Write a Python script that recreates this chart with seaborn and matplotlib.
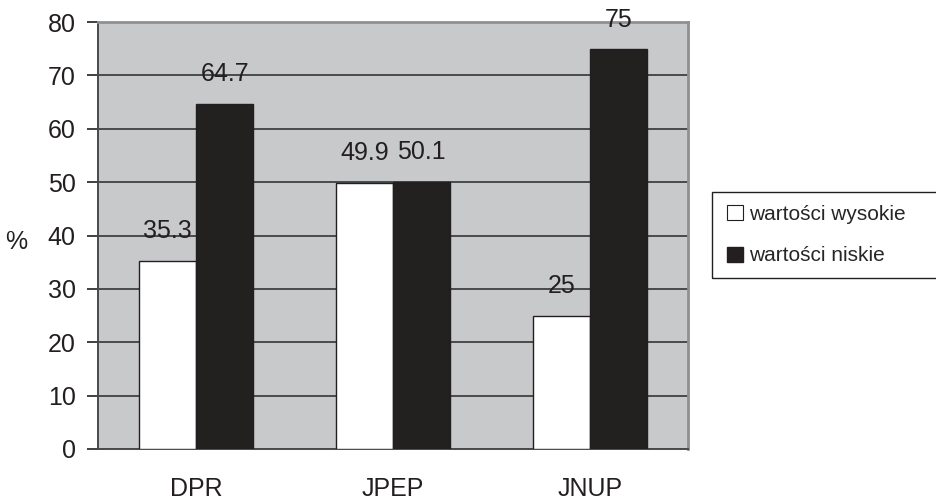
import matplotlib
matplotlib.use("Agg")
import matplotlib.pyplot as plt
import seaborn as sns
import pandas as pd
from matplotlib.patches import Patch, Rectangle

categories = ["DPR", "JPEP", "JNUP"]
series_names = ["wartości wysokie", "wartości niskie"]
high_values = [35.3, 49.9, 25]
low_values = [64.7, 50.1, 75]
label_high = ["35.3", "49.9", "25"]
label_low = ["64.7", "50.1", "75"]
y_ticks = [0, 10, 20, 30, 40, 50, 60, 70, 80]

df = pd.DataFrame({
    "cat": categories * 2,
    "series": [series_names[0]] * 3 + [series_names[1]] * 3,
    "value": high_values + low_values,
})

sns.set_theme(style="white")
plt.rcParams['font.family'] = ['Liberation Sans', 'DejaVu Sans']

fig = plt.figure(figsize=(9.37, 5.0), dpi=100)
ax = fig.add_axes([0.1046, 0.102, 0.6297, 0.854])

palette = {series_names[0]: "#ffffff", series_names[1]: "#231f20"}
sns.barplot(data=df, x="cat", y="value", hue="series", palette=palette,
            order=categories, hue_order=series_names, width=0.58,
            edgecolor="#231f20", linewidth=1.0, legend=False, ax=ax, zorder=3)

ax.set_facecolor("#c8c9cb")
ax.set_ylim(0, 80)
ax.set_xlim(-0.5, 2.5)
ax.set_yticks(y_ticks)
ax.set_yticklabels([str(v) for v in y_ticks], fontsize=18, color="#231f20")
ax.yaxis.grid(True, color="#4a4a4a", linewidth=1.4, zorder=1)
ax.set_axisbelow(True)

ax.set_xticks([0, 1, 2])
ax.set_xticklabels(categories, fontsize=18, color="#231f20")
ax.set_xticks([-0.5, 0.5, 1.5, 2.5], minor=True)
ax.tick_params(axis="x", which="major", length=0, pad=20)
ax.tick_params(axis="x", which="minor", length=8, width=1.2, color="#231f20", direction="out")
ax.tick_params(axis="y", which="major", length=8, width=1.2, color="#231f20", direction="out", pad=8, left=True)

ax.set_xlabel("")
ax.set_ylabel("%", fontsize=18, rotation=0, color="#231f20", va="center", ha="center")
ax.yaxis.set_label_coords(-0.138, 0.485)

for side in ["left", "bottom"]:
    ax.spines[side].set_color("#4a4a4a")
    ax.spines[side].set_linewidth(1.4)
for side in ["top", "right"]:
    ax.spines[side].set_color("#8f9092")
    ax.spines[side].set_linewidth(2.0)
    ax.spines[side].set_visible(True)

for container, labels in zip(ax.containers, [label_high, label_low]):
    for bar, lab in zip(container, labels):
        ax.annotate(lab, (bar.get_x() + bar.get_width() / 2, bar.get_height()),
                    xytext=(0, 21), textcoords="offset points",
                    ha="center", va="center", fontsize=18, color="#231f20",
                    zorder=5, annotation_clip=False)

handles = [Patch(facecolor="#ffffff", edgecolor="#231f20", linewidth=0.8),
           Patch(facecolor="#231f20", edgecolor="#231f20")]
leg = fig.legend(handles, series_names, loc="center left",
                 bbox_to_anchor=(0.763, 0.53), fontsize=15, frameon=False,
                 handlelength=0.75, handleheight=0.75, handletextpad=0.3,
                 labelspacing=1.1, borderpad=0.6, borderaxespad=0)

# legend box running off the right edge, as in the reference
fig.patches.append(Rectangle((0.760, 1 - 278 / 500), 0.3, 86 / 500,
                             transform=fig.transFigure, fill=False,
                             edgecolor="#231f20", linewidth=1.0))

fig.savefig("out.png", dpi=100, facecolor="white")
